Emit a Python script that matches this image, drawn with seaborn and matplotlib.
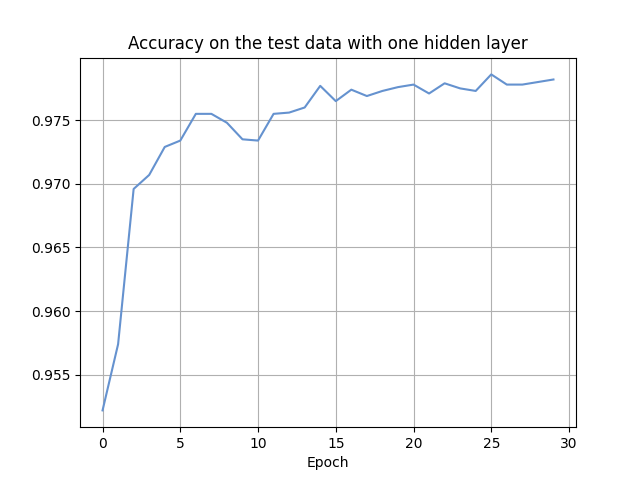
import matplotlib
matplotlib.use('Agg')
import matplotlib.pyplot as plt
import pandas as pd
import seaborn as sns

epochs = list(range(30))
accuracy = [0.9522, 0.9574, 0.9696, 0.9707, 0.9729, 0.9734, 0.9755, 0.9755, 0.9748, 0.9735,
            0.9734, 0.9755, 0.9756, 0.9760, 0.9777, 0.9765, 0.9774, 0.9769, 0.9773, 0.9776,
            0.9778, 0.9771, 0.9779, 0.9775, 0.9773, 0.9786, 0.9778, 0.9778, 0.9780, 0.9782]


def main():
    df = pd.DataFrame({'Epoch': epochs, 'Accuracy': accuracy})

    fig, ax = plt.subplots(figsize=(6.4, 4.8), dpi=100)
    sns.lineplot(data=df, x='Epoch', y='Accuracy', ax=ax, color='#6592cf', linewidth=1.5)
    ax.set_title('Accuracy on the test data with one hidden layer')
    ax.set_xlabel('Epoch')
    ax.set_ylabel('')
    ax.set_xticks([0, 5, 10, 15, 20, 25, 30])
    ax.grid(True)
    fig.savefig('out.png')


if __name__ == '__main__':
    main()
